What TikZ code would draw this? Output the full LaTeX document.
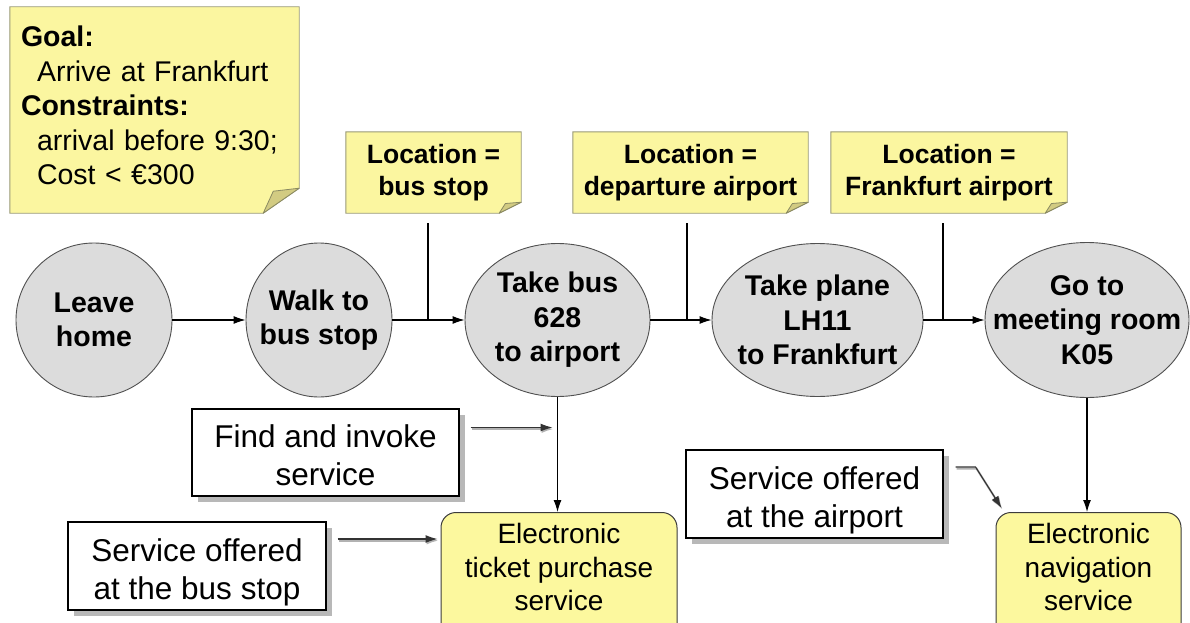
\documentclass[tikz,border=0pt]{standalone}
\usepackage{fontspec}
\setmainfont{Liberation Sans}
\usetikzlibrary{shapes.geometric,arrows.meta,shadows,calc,backgrounds}

\definecolor{notefill}{HTML}{FBF6A0}
\definecolor{noteline}{HTML}{9A9A78}
\definecolor{flapfill}{HTML}{D2CB82}
\definecolor{flapline}{HTML}{8A8A62}
\definecolor{stepfill}{HTML}{DCDCDC}
\definecolor{stepline}{HTML}{505050}
\definecolor{svcfill}{HTML}{FCF89E}
\definecolor{svcline}{HTML}{3C3C3C}

\tikzset{
  arr/.style={draw=black, line width=1.1pt, -{Latex[length=12pt,width=8pt]}},
  plainline/.style={draw=black, line width=1.1pt},
  sarrow/.style={arr, draw=black!80,
    preaction={draw=black!30, line width=2pt, transform canvas={xshift=1pt,yshift=-1.6pt}}},
  stepnode/.style={ellipse, draw=stepline, fill=stepfill, line width=0.9pt,
    inner xsep=-35pt, inner ysep=-20pt, align=center,
    font=\fontsize{28.5}{34.5}\selectfont\bfseries},
  notenode/.style={rectangle, inner sep=0pt, align=center,
    font=\fontsize{26.5}{32}\selectfont\bfseries},
  notepaper/.style={fill=notefill, draw=noteline, line width=0.9pt},
  noteflap/.style={fill=flapfill, draw=flapline, line width=0.8pt, line join=round},
  labelbox/.style={rectangle, draw=black, fill=white, line width=1.1pt, align=center,
    inner sep=0pt, font=\fontsize{31.5}{38}\selectfont,
    drop shadow={shadow xshift=6pt, shadow yshift=-6pt, fill=black!28, opacity=1}},
  svcbox/.style={rectangle, rounded corners=15pt, draw=svcline, fill=svcfill,
    line width=1pt, anchor=north, align=center, inner ysep=11pt, inner xsep=0pt,
    font=\fontsize{28}{33.5}\selectfont},
}

% outline of a sticky note with a folded lower right corner:
% #1 node, #2 fold width, #3 fold height
\newcommand\foldnote[3]{%
  \path[notepaper] (#1.north west) -- (#1.north east)
    -- ($(#1.south east)+(0,-#3)$) -- ($(#1.south east)+(-#2,0)$)
    -- (#1.south west) -- cycle;
  \path[noteflap] ($(#1.south east)+(0,-#3)$)
    -- ($(#1.south east)+(-0.72*#2,-0.88*#3)$)
    -- ($(#1.south east)+(-#2,0)$) -- cycle;
}

\begin{document}
\begin{tikzpicture}[x=1pt,y=-1pt]
\useasboundingbox (0,0) rectangle (1190,623);
\clip (0,0) rectangle (1190,623);

% ---- notes: goal and locations ----
\node[notenode, align=left, text width=267pt, minimum width=289pt, minimum height=206pt,
      font=\fontsize{28.5}{34.5}\selectfont] (goal) at (154.5,110)
  {\textbf{Goal:}\\
   \hspace*{16pt}Arrive at Frankfurt\\
   \textbf{Constraints:}\\
   \hspace*{16pt}arrival before 9:30;\\
   \hspace*{16pt}Cost < €300\\[-25.8pt]\mbox{}};
\node[notenode, minimum width=175pt, minimum height=81pt] (loc1) at (433.5,172.5)
  {Location =\\bus stop\\[-26pt]\mbox{}};
\node[notenode, minimum width=235pt, minimum height=81pt] (loc2) at (690.5,172.5)
  {Location =\\departure airport\\[-26pt]\mbox{}};
\node[notenode, minimum width=236pt, minimum height=81pt] (loc3) at (949,172.5)
  {Location =\\Frankfurt airport\\[-26pt]\mbox{}};

% ---- steps of the journey ----
\node[stepnode, minimum width=156pt, minimum height=154pt] (leave) at (94,320) {Leave\\home};
\node[stepnode, minimum width=146pt, minimum height=154pt] (walk) at (319,320) {Walk to\\bus stop};
\node[stepnode, minimum width=185pt, minimum height=153pt] (bus) at (557.5,320) {Take bus\\628\\to airport};
\node[stepnode, minimum width=211pt, minimum height=153pt] (plane) at (817.5,320) {Take plane\\LH11\\to Frankfurt};
\node[stepnode, minimum width=204pt, minimum height=155pt] (goto) at (1087,320) {Go to\\meeting room\\K05};

% ---- explanation boxes ----
\node[labelbox, minimum width=267pt, minimum height=87pt] (find) at (325.5,452.5)
  {Find and invoke\\service\\[-44pt]\mbox{}};
\node[labelbox, minimum width=258pt, minimum height=88pt] (stopnote) at (197,566)
  {Service offered\\at the bus stop\\[-44pt]\mbox{}};
\node[labelbox, minimum width=257pt, minimum height=88pt] (airnote) at (814.5,494)
  {Service offered\\at the airport\\[-44pt]\mbox{}};

% ---- services ----
\node[svcbox, minimum width=236pt] (ticket) at (559,512)
  {Electronic\\ticket purchase\\service\\[40pt]\mbox{}};
\node[svcbox, minimum width=185pt] (nav) at (1088.5,512)
  {Electronic\\navigation\\service\\[40pt]\mbox{}};

% ---- note outlines behind their texts ----
\begin{scope}[on background layer]
  \fill[white] (0,0) rectangle (1190,623);
  \foldnote{goal}{36}{25}
  \foldnote{loc1}{22}{11}
  \foldnote{loc2}{22}{11}
  \foldnote{loc3}{22}{11}
\end{scope}

% ---- flow between the steps ----
\draw[arr] (leave.east) -- (walk.west);
\draw[arr] (walk.east) -- (bus.west);
\draw[arr] (bus.east) -- (plane.west);
\draw[arr] (plane.east) -- (goto.west);

% ---- location annotations ----
\coordinate (l1) at ($(loc1.south)+(-5.5,10)$);
\coordinate (l2) at ($(loc2.south)+(-3.5,10)$);
\coordinate (l3) at ($(loc3.south)+(-6,10)$);
\draw[plainline] (l1) -- (l1 |- walk.east);
\draw[plainline] (l2) -- (l2 |- bus.east);
\draw[plainline] (l3) -- (l3 |- plane.east);

% ---- service invocations ----
\draw[arr] (bus.south) -- (bus.south |- ticket.north);
\draw[arr] (goto.south) -- (goto.south |- nav.north);

\coordinate (f1) at ($(find.east)+(11,-25)$);
\draw[sarrow, shorten >=5pt] (f1) -- (f1 -| bus.south);
\coordinate (s1) at ($(stopnote.east)+(11,-27)$);
\draw[sarrow, shorten >=3pt] (s1) -- (s1 -| ticket.west);
\coordinate (a1) at ($(airnote.east)+(12,-27)$);
\coordinate (a2) at ($(nav.north west)+(6,-4)$);
\draw[sarrow] (a1) -- ++(20,0) -- (a2);
\end{tikzpicture}
\end{document}
